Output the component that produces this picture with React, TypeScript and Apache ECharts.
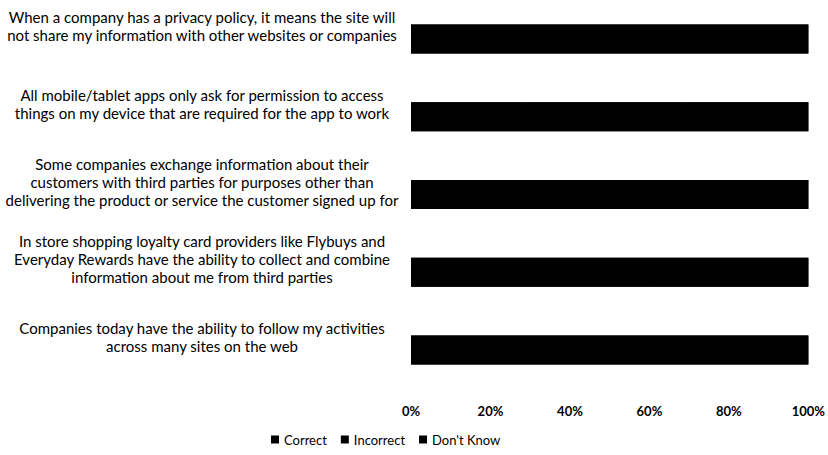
import React, { useEffect, useRef } from "react";
import * as echarts from "echarts";

const categories = [
  "When a company has a privacy policy, it means the site will\nnot share my information with other websites or companies",
  "All mobile/tablet apps only ask for permission to access\nthings on my device that are required for the app to work",
  "Some companies exchange information about their\ncustomers with third parties for purposes other than\ndelivering the product or service the customer signed up for",
  "In store shopping loyalty card providers like Flybuys and\nEveryday Rewards have the ability to collect and combine\ninformation about me from third parties",
  "Companies today have the ability to follow my activities\nacross many sites on the web",
];

// Segments are indistinguishable in the (black) reference; values estimated.
const correct = [33, 28, 68, 60, 72];
const incorrect = [45, 40, 10, 11, 9];
const dontKnow = [22, 32, 22, 29, 19];

const seriesNames = ["Correct", "Incorrect", "Don't Know"];
const seriesData = [correct, incorrect, dontKnow];

export default function App() {
  const ref = useRef<HTMLDivElement>(null);
  useEffect(() => {
    document.body.style.margin = "0";
    if (!ref.current) return;
    const chart = echarts.init(ref.current, null, { renderer: "svg" });
    const font = "Lato, 'Open Sans', sans-serif";
    chart.setOption({
      animation: false,
      textStyle: { fontFamily: font },
      grid: { left: 411, right: 16, top: -3, height: 392, containLabel: false },
      legend: {
        top: 428,
        left: 266,
        itemWidth: 8,
        itemHeight: 8,
        itemGap: 14,
        icon: "rect",
        textStyle: { fontSize: 13, color: "#000", fontFamily: font },
        data: seriesNames,
      },
      xAxis: {
        type: "value",
        min: 0,
        max: 100,
        interval: 20,
        axisLine: { show: false },
        axisTick: { show: false },
        splitLine: { show: false },
        axisLabel: {
          formatter: "{value}%",
          fontSize: 13,
          fontWeight: "bold",
          color: "#000",
          margin: 15,
          fontFamily: font,
        },
      },
      yAxis: {
        type: "category",
        inverse: true,
        data: categories,
        axisLine: { show: false },
        axisTick: { show: false },
        axisLabel: {
          align: "center",
          margin: 209,
          formatter: (v: string) =>
            v
              .split("\n")
              .map((l) => `{a|${l}}`)
              .join("\n") + "\n{gap| }",
          rich: {
            a: { fontSize: 15, lineHeight: 18, color: "#000", fontFamily: font },
            gap: { fontSize: 4, lineHeight: 26 },
          },
        },
      },
      series: seriesNames.map((name, i) => ({
        name,
        type: "bar",
        stack: "total",
        barWidth: 29,
        data: seriesData[i],
        showBackground: i === 0,
        backgroundStyle: { color: "#000" },
        itemStyle: { color: "#000" },
      })),
    });
    return () => chart.dispose();
  }, []);
  return <div ref={ref} style={{ width: 828, height: 455 }} />;
}
